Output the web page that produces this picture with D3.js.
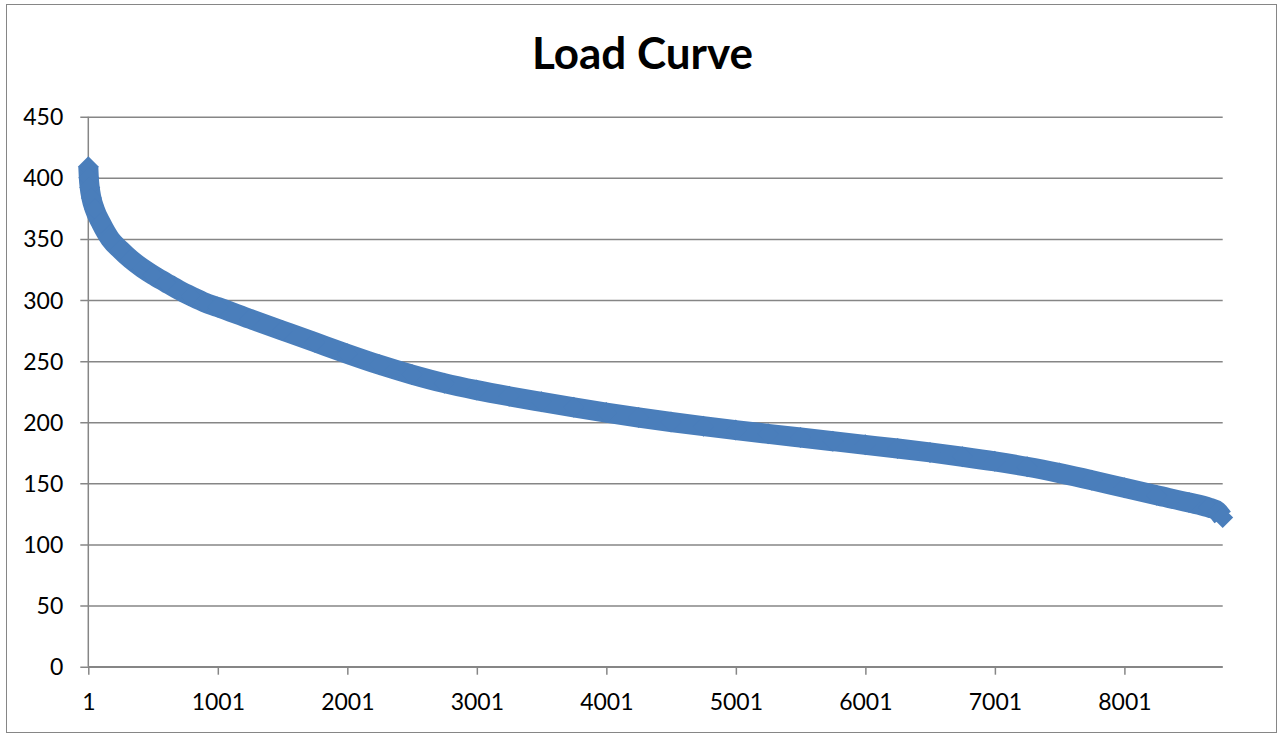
<!DOCTYPE html>
<html>
<head>
<meta charset="utf-8">
<script src="https://cdn.jsdelivr.net/npm/d3@7"></script>
<style>
  html, body { margin: 0; padding: 0; background: #fff; }
  svg { display: block; }
</style>
</head>
<body>
<svg id="chart" width="1280" height="734"></svg>
<script>
// ---- data ----
const title = "Load Curve";
const hours = [1, 5, 12, 25, 50, 100, 170, 250, 330, 420, 500, 600, 700, 800, 900, 1000,
  1250, 1500, 1750, 2000, 2250, 2500, 2750, 3000, 3250, 3500, 3750, 4000, 4250, 4500,
  4750, 5000, 5250, 5500, 5750, 6000, 6250, 6500, 6750, 7000, 7250, 7500, 7750, 8000,
  8250, 8500, 8650, 8720, 8760];
const loads = [409, 400, 392, 383.5, 374.4, 362.8, 350, 341, 333.2, 326, 320.5, 314.3, 308.2, 302.9, 298, 294.3,
  284.5, 275, 265.5, 256, 247, 239, 232, 226.3, 221.3, 216.7, 212.2, 207.9, 203.9, 200.2,
  196.8, 193.6, 190.5, 187.5, 184.5, 181.5, 178.5, 175.3, 171.8, 168, 163.6, 158.4, 152.6, 146.4,
  140.3, 134.3, 130.3, 127.2, 122];
const xTickValues = [1, 1001, 2001, 3001, 4001, 5001, 6001, 7001, 8001];
const yTickValues = [0, 50, 100, 150, 200, 250, 300, 350, 400, 450];
const hourCount = 8760;

// ---- layout ----
const svg = d3.select("#chart");
const pLeft = 88.3, pRight = 1222.7, pTop = 116.7, pBottom = 666.7;
const x = d3.scaleLinear().domain([1, hourCount]).range([pLeft, pRight]);
const y = d3.scaleLinear().domain([0, 450]).range([pBottom, pTop]);
const gridColor = "#868686";
const font = "Lato, 'Open Sans', sans-serif";

// chart border
svg.append("rect")
  .attr("x", 6.5).attr("y", 4.5).attr("width", 1270).attr("height", 728)
  .attr("fill", "#fff").attr("stroke", gridColor).attr("stroke-width", 1);

// title
svg.append("text")
  .attr("x", 642.5).attr("y", 69)
  .attr("text-anchor", "middle")
  .attr("font-family", font).attr("font-weight", "bold").attr("font-size", 44)
  .attr("fill", "#000")
  .text(title);

// y axis with gridlines
const yAxis = d3.axisLeft(y).tickValues(yTickValues).tickSize(-(pRight - pLeft)).tickPadding(0);
const gy = svg.append("g").attr("transform", `translate(${pLeft},0)`).call(yAxis);
gy.select(".domain").remove();
gy.selectAll(".tick line").attr("stroke", gridColor).attr("stroke-width", 1.5)
  .attr("x1", -8);
gy.selectAll(".tick text")
  .attr("x", -25).attr("dy", "0.35em")
  .attr("font-family", font).attr("font-size", 23).attr("fill", "#000");

// vertical axis line
svg.append("line")
  .attr("x1", pLeft).attr("x2", pLeft).attr("y1", pTop).attr("y2", pBottom)
  .attr("stroke", gridColor).attr("stroke-width", 1.5);

// x axis
const xAxis = d3.axisBottom(x).tickValues(xTickValues).tickFormat(d3.format("d"))
  .tickSize(8).tickSizeOuter(0).tickPadding(0);
const gx = svg.append("g").attr("transform", `translate(0,${pBottom})`).call(xAxis);
gx.select(".domain").attr("stroke", gridColor).attr("stroke-width", 1.5)
  .attr("d", `M${pLeft},0H${pRight}`);
gx.selectAll(".tick line").attr("stroke", gridColor).attr("stroke-width", 1.5);
gx.selectAll(".tick text")
  .attr("y", 35).attr("dy", "0.35em")
  .attr("font-family", font).attr("font-size", 23).attr("fill", "#000");

// series
const data = hours.map((h, i) => ({ h, v: loads[i] }));
const color = "#4a7ebb";
const line = d3.line().x(d => x(d.h)).y(d => y(d.v)).curve(d3.curveMonotoneX);
svg.append("path")
  .datum(data)
  .attr("d", line)
  .attr("fill", "none")
  .attr("stroke", color)
  .attr("stroke-width", 20)
  .attr("stroke-linejoin", "round");

const r = 10.5;
svg.append("g").selectAll("path")
  .data(data)
  .join("path")
  .attr("d", d => { const cx = x(d.h), cy = y(d.v);
    return `M${cx},${cy - r}L${cx + r},${cy}L${cx},${cy + r}L${cx - r},${cy}Z`; })
  .attr("fill", color);
</script>
</body>
</html>
